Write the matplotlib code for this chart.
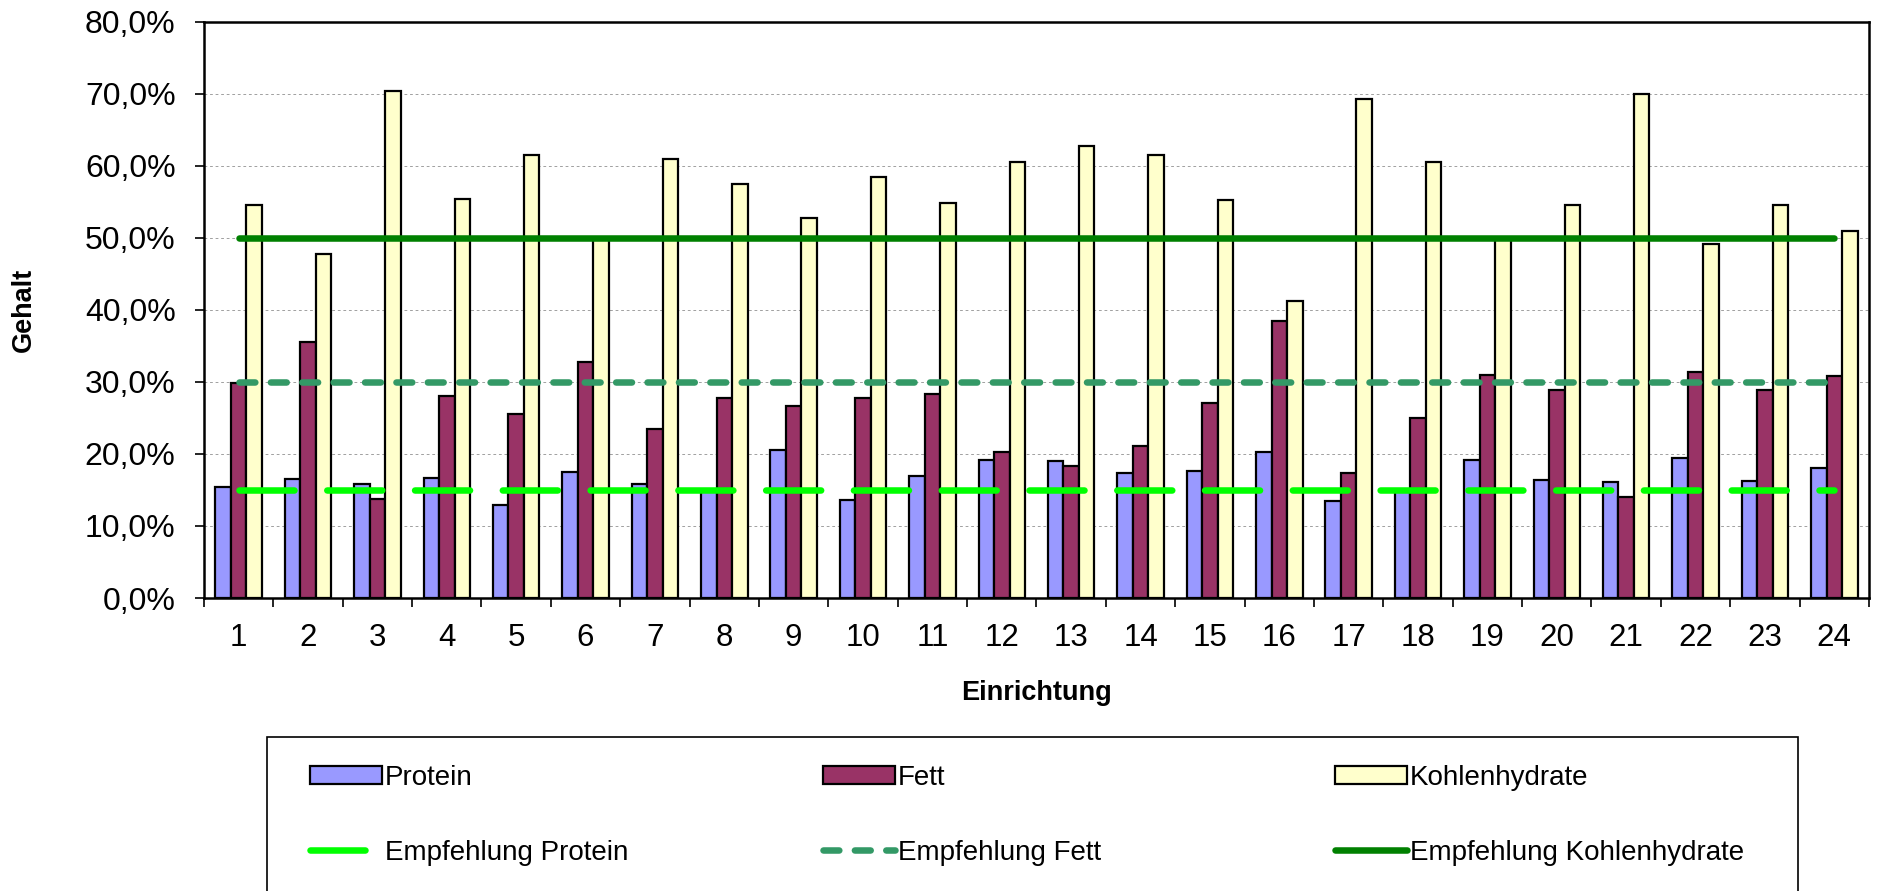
import numpy as np
import matplotlib
matplotlib.use("Agg")
import matplotlib.pyplot as plt
from matplotlib.ticker import FuncFormatter, MultipleLocator, FixedLocator
from matplotlib.patches import Rectangle

plt.rcParams['font.family'] = ['Liberation Sans', 'DejaVu Sans']
plt.rcParams['lines.scale_dashes'] = False

einrichtung = list(range(1, 25))
protein = [15.4, 16.5, 15.8, 16.7, 12.9, 17.5, 15.8, 15.0, 20.6, 13.6, 16.9, 19.2,
           19.0, 17.4, 17.6, 20.2, 13.4, 14.8, 19.1, 16.4, 16.1, 19.4, 16.3, 18.1]
fett = [29.9, 35.6, 13.7, 28.0, 25.6, 32.7, 23.4, 27.8, 26.7, 27.7, 28.3, 20.3,
        18.3, 21.1, 27.1, 38.4, 17.4, 25.0, 31.0, 28.9, 14.0, 31.3, 28.9, 30.8]
kohlenhydrate = [54.6, 47.8, 70.4, 55.4, 61.5, 49.8, 60.9, 57.4, 52.7, 58.5, 54.8, 60.5,
                 62.7, 61.5, 55.3, 41.2, 69.2, 60.5, 49.9, 54.5, 69.9, 49.1, 54.6, 51.0]
empf_protein = 15.0
empf_fett = 30.0
empf_kh = 50.0

W, H = 1883, 891
fig = plt.figure(figsize=(W / 100, H / 100), dpi=100)
ax = fig.add_axes([204 / W, 1 - 598 / H, (1869 - 204) / W, (598 - 21.6) / H])

x = np.array(einrichtung)
bw = 0.224
b1 = ax.bar(x - bw, protein, bw, color='#9999FF', edgecolor='black', linewidth=1.6, zorder=2)
b2 = ax.bar(x, fett, bw, color='#993366', edgecolor='black', linewidth=1.6, zorder=2)
b3 = ax.bar(x + bw, kohlenhydrate, bw, color='#FFFFCC', edgecolor='black', linewidth=1.6, zorder=2)

xl = [x[0], x[-1]]
l1, = ax.plot(xl, [empf_protein] * 2, color='#00FF00', lw=4.7, dashes=(39.6, 23.6),
              dash_capstyle='round', zorder=3)
l2, = ax.plot(xl, [empf_fett] * 2, color='#339966', lw=4.7, dashes=(11.4, 11.2),
              dash_capstyle='round', zorder=3)
l3, = ax.plot(xl, [empf_kh] * 2, color='#008000', lw=4.7, solid_capstyle='round', zorder=3)

ax.set_xlim(0.5, 24.5)
ax.set_ylim(0, 80)
ax.yaxis.set_major_locator(MultipleLocator(10))
ax.yaxis.set_major_formatter(FuncFormatter(lambda v, p: f"{v:.1f}%".replace('.', ',')))
ax.xaxis.set_major_locator(FixedLocator(np.arange(0.5, 25, 1)))
ax.xaxis.set_major_formatter(FuncFormatter(lambda v, p: ''))
ax.xaxis.set_minor_locator(FixedLocator(x))
ax.xaxis.set_minor_formatter(FuncFormatter(lambda v, p: f"{int(round(v))}"))
ax.tick_params(axis='x', which='major', length=6.5, width=1.2, direction='out')
ax.tick_params(axis='x', which='minor', length=0, pad=18, labelsize=22.5)
ax.tick_params(axis='y', length=6.5, width=1.2, direction='out', pad=14, labelsize=23)

ax.grid(axis='y', color='#a0a0a0', linestyle=(0, (2, 2)), linewidth=0.7, zorder=0)
ax.set_axisbelow(True)
for s in ax.spines.values():
    s.set_linewidth(1.8)
    s.set_color('black')

ax.set_ylabel('Gehalt', fontsize=19.5, fontweight='bold', va='center')
ax.yaxis.set_label_coords(-(204 - 24) / (1869 - 204), 0.5)
ax.set_xlabel('Einrichtung', fontsize=19.5, fontweight='bold', va='center')
ax.xaxis.set_label_coords(0.5, -(693 - 598) / (598 - 21.6))

# legend box
fig.add_artist(Rectangle((267 / W, -0.01), (1798 - 267) / W, 1 - 737 / H + 0.01,
                         transform=fig.transFigure, fill=False, edgecolor='black', lw=1.2))
cols = [([b1, l1], ['Protein', 'Empfehlung Protein'], 310),
        ([b2, l2], ['Fett', 'Empfehlung Fett'], 823),
        ([b3, l3], ['Kohlenhydrate', 'Empfehlung Kohlenhydrate'], 1335)]
for hs, labs, xpos in cols:
    fig.legend(hs, labs, loc='center left', bbox_to_anchor=(xpos / W, 1 - 815.5 / H),
               frameon=False, fontsize=20, borderpad=0, borderaxespad=0,
               handlelength=2.6, handleheight=0.62, handletextpad=0.1,
               labelspacing=1.75)

fig.savefig('out.png', dpi=100)
